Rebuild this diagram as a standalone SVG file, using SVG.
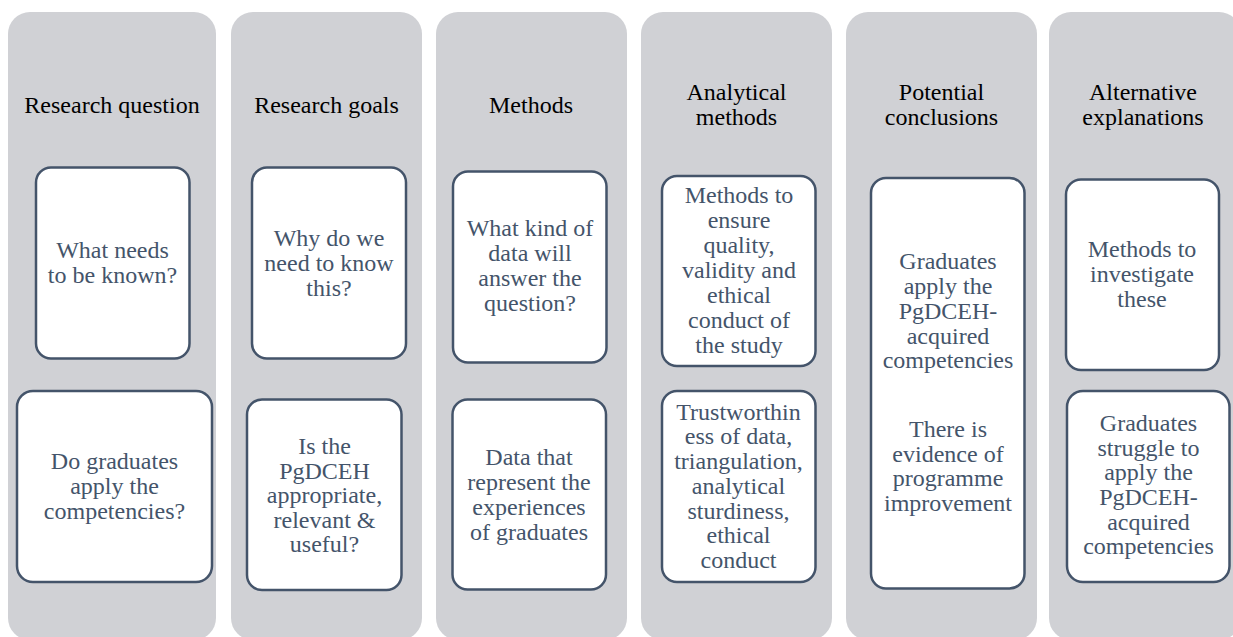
<svg xmlns="http://www.w3.org/2000/svg" width="1233" height="637" viewBox="0 0 1233 637" font-family="Liberation Serif">
  <style>
    .lane { fill: #D0D1D5; }
    .box { fill: #FFFFFF; stroke: #44546A; stroke-width: 2.5; }
    .hd { font-size: 24px; fill: #000000; text-anchor: middle; }
    .lbl { font-size: 24px; fill: #44546A; text-anchor: middle; }
    .lbl tspan { font-family: Liberation Serif, serif; }
  </style>
  <rect width="1233" height="637" fill="#FFFFFF"/>

  <!-- Column 1: Research question -->
  <g id="col-research-question" font-family="Liberation Serif">
    <rect class="lane" x="8" y="12" width="208" height="628" rx="22"/>
    <text class="hd" font-family="Liberation Serif" x="112" y="113">Research question</text>
  </g>
  <g id="card-what-needs" font-family="Liberation Serif">
    <rect class="box" x="36" y="167.5" width="153.5" height="191" rx="15"/>
    <text class="lbl" font-family="Liberation Serif"><tspan x="112.5" y="258">What needs</tspan><tspan x="112.5" y="283">to be known?</tspan></text>
  </g>
  <g id="card-do-graduates" font-family="Liberation Serif">
    <rect class="box" x="17" y="391" width="195" height="191" rx="16"/>
    <text class="lbl" font-family="Liberation Serif"><tspan x="114.5" y="468.5">Do graduates</tspan><tspan x="114.5" y="493.5">apply the</tspan><tspan x="114.5" y="518.5">competencies?</tspan></text>
  </g>

  <!-- Column 2: Research goals -->
  <g id="col-research-goals" font-family="Liberation Serif">
    <rect class="lane" x="231" y="12" width="191" height="628" rx="22"/>
    <text class="hd" font-family="Liberation Serif" x="326.5" y="113">Research goals</text>
  </g>
  <g id="card-why-know" font-family="Liberation Serif">
    <rect class="box" x="252" y="167.5" width="154" height="191" rx="15"/>
    <text class="lbl" font-family="Liberation Serif"><tspan x="329" y="246">Why do we</tspan><tspan x="329" y="271">need to know</tspan><tspan x="329" y="296">this?</tspan></text>
  </g>
  <g id="card-is-appropriate" font-family="Liberation Serif">
    <rect class="box" x="247" y="399.5" width="154.5" height="190.5" rx="15"/>
    <text class="lbl" font-family="Liberation Serif"><tspan x="324.5" y="453.5">Is the</tspan><tspan x="324.5" y="478.5">PgDCEH</tspan><tspan x="324.5" y="503">appropriate,</tspan><tspan x="324.5" y="527.5">relevant &amp;</tspan><tspan x="324.5" y="552">useful?</tspan></text>
  </g>

  <!-- Column 3: Methods -->
  <g id="col-methods" font-family="Liberation Serif">
    <rect class="lane" x="436" y="12" width="191" height="628" rx="22"/>
    <text class="hd" font-family="Liberation Serif" x="531" y="113">Methods</text>
  </g>
  <g id="card-what-data" font-family="Liberation Serif">
    <rect class="box" x="453" y="171.5" width="153.5" height="191" rx="15"/>
    <text class="lbl" font-family="Liberation Serif"><tspan x="530" y="236">What kind of</tspan><tspan x="530" y="261">data will</tspan><tspan x="530" y="286">answer the</tspan><tspan x="530" y="311">question?</tspan></text>
  </g>
  <g id="card-data-represent" font-family="Liberation Serif">
    <rect class="box" x="452.5" y="399.5" width="153.5" height="190" rx="15"/>
    <text class="lbl" font-family="Liberation Serif"><tspan x="529" y="465">Data that</tspan><tspan x="529" y="490">represent the</tspan><tspan x="529" y="514.5">experiences</tspan><tspan x="529" y="539.5">of graduates</tspan></text>
  </g>

  <!-- Column 4: Analytical methods -->
  <g id="col-analytical-methods" font-family="Liberation Serif">
    <rect class="lane" x="641" y="12" width="191" height="628" rx="22"/>
    <text class="hd" font-family="Liberation Serif"><tspan x="736.5" y="100">Analytical</tspan><tspan x="736.5" y="125">methods</tspan></text>
  </g>
  <g id="card-ensure-quality" font-family="Liberation Serif">
    <rect class="box" x="662" y="176" width="153.5" height="190" rx="15"/>
    <text class="lbl" font-family="Liberation Serif"><tspan x="739" y="203">Methods to</tspan><tspan x="739" y="228">ensure</tspan><tspan x="739" y="252.5">quality,</tspan><tspan x="739" y="277.5">validity and</tspan><tspan x="739" y="302.5">ethical</tspan><tspan x="739" y="327.5">conduct of</tspan><tspan x="739" y="352.5">the study</tspan></text>
  </g>
  <g id="card-trustworthiness" font-family="Liberation Serif">
    <rect class="box" x="662" y="391" width="153.5" height="191" rx="15"/>
    <text class="lbl" font-family="Liberation Serif"><tspan x="738.5" y="419.5">Trustworthin</tspan><tspan x="738.5" y="444">ess of data,</tspan><tspan x="738.5" y="469">triangulation,</tspan><tspan x="738.5" y="493.5">analytical</tspan><tspan x="738.5" y="518.5">sturdiness,</tspan><tspan x="738.5" y="543">ethical</tspan><tspan x="738.5" y="568">conduct</tspan></text>
  </g>

  <!-- Column 5: Potential conclusions -->
  <g id="col-potential-conclusions" font-family="Liberation Serif">
    <rect class="lane" x="846" y="12" width="191" height="628" rx="22"/>
    <text class="hd" font-family="Liberation Serif"><tspan x="941.5" y="100">Potential</tspan><tspan x="941.5" y="125">conclusions</tspan></text>
  </g>
  <g id="card-graduates-apply" font-family="Liberation Serif">
    <rect class="box" x="871" y="178" width="153.5" height="410.5" rx="15"/>
    <text class="lbl" font-family="Liberation Serif"><tspan x="948" y="268.5">Graduates</tspan><tspan x="948" y="293.5">apply the</tspan><tspan x="948" y="318.5">PgDCEH-</tspan><tspan x="948" y="343.5">acquired</tspan><tspan x="948" y="368">competencies</tspan><tspan x="948" y="437">There is</tspan><tspan x="948" y="461.5">evidence of</tspan><tspan x="948" y="486">programme</tspan><tspan x="948" y="511">improvement</tspan></text>
  </g>

  <!-- Column 6: Alternative explanations -->
  <g id="col-alternative-explanations" font-family="Liberation Serif">
    <rect class="lane" x="1049" y="12" width="192" height="628" rx="22"/>
    <text class="hd" font-family="Liberation Serif"><tspan x="1143" y="100">Alternative</tspan><tspan x="1143" y="125">explanations</tspan></text>
  </g>
  <g id="card-investigate" font-family="Liberation Serif">
    <rect class="box" x="1066" y="179.5" width="153" height="190.5" rx="15"/>
    <text class="lbl" font-family="Liberation Serif"><tspan x="1142" y="257">Methods to</tspan><tspan x="1142" y="282">investigate</tspan><tspan x="1142" y="306.5">these</tspan></text>
  </g>
  <g id="card-graduates-struggle" font-family="Liberation Serif">
    <rect class="box" x="1067" y="391" width="162.5" height="191" rx="16"/>
    <text class="lbl" font-family="Liberation Serif"><tspan x="1148.5" y="431">Graduates</tspan><tspan x="1148.5" y="455.5">struggle to</tspan><tspan x="1148.5" y="480">apply the</tspan><tspan x="1148.5" y="504.5">PgDCEH-</tspan><tspan x="1148.5" y="529.5">acquired</tspan><tspan x="1148.5" y="553.5">competencies</tspan></text>
  </g>

  <!-- No connectors are drawn between the columns. -->
  <g id="connectors"/>
</svg>
